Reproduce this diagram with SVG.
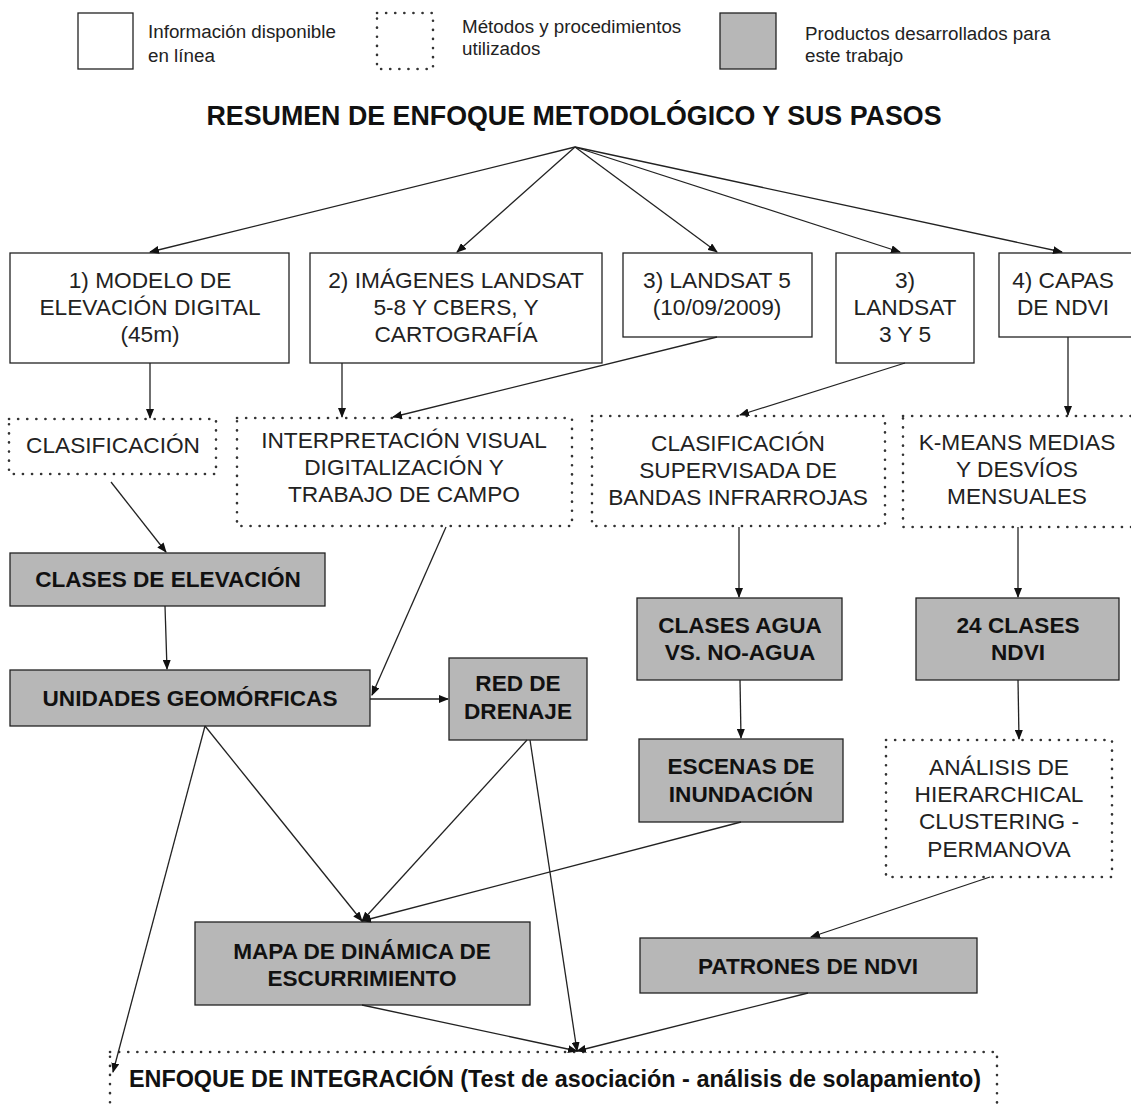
<svg xmlns="http://www.w3.org/2000/svg" width="1131" height="1108" viewBox="0 0 1131 1108">
<style>
.n{fill:#fff;stroke:#222;stroke-width:1.3}
.d{fill:#fff;stroke:#333;stroke-width:2.6;stroke-dasharray:0.1 9;stroke-linecap:round}
.p{fill:#b7b7b7;stroke:#222;stroke-width:1.3}
.t{font-family:"Liberation Sans",Arial,sans-serif;font-size:22.7px;fill:#222;text-anchor:middle}
.b{font-family:"Liberation Sans",Arial,sans-serif;font-size:22.6px;font-weight:bold;fill:#111;text-anchor:middle}
.l{font-family:"Liberation Sans",Arial,sans-serif;font-size:18.8px;fill:#222}
.c line{stroke:#222;stroke-width:1.3;marker-end:url(#ah)}
</style>
<defs>
<marker id="ah" markerUnits="userSpaceOnUse" markerWidth="10" markerHeight="8" refX="9" refY="4" orient="auto">
<path d="M0,0 L10,4 L0,8 z" fill="#111"/>
</marker>
</defs>
<rect width="1131" height="1108" fill="#fff"/>
<g id="legend">
<rect class="n" x="78" y="13" width="55" height="56"/>
<text class="l" x="148" y="38">Información disponible</text>
<text class="l" x="148" y="62">en línea</text>
<rect class="d" x="377" y="13" width="56" height="56"/>
<text class="l" x="462" y="33">Métodos y procedimientos</text>
<text class="l" x="462" y="55">utilizados</text>
<rect class="p" x="720" y="13" width="56" height="56"/>
<text class="l" x="805" y="40">Productos desarrollados para</text>
<text class="l" x="805" y="62">este trabajo</text>
</g>
<g id="title">
<text class="b" x="574" y="125" style="font-size:26.8px">RESUMEN DE ENFOQUE METODOLÓGICO Y SUS PASOS</text>
</g>
<g id="n1"><rect class="n" x="10" y="253" width="279" height="110"/>
<text class="t" x="150" y="288">1) MODELO DE</text><text class="t" x="150" y="315">ELEVACIÓN DIGITAL</text><text class="t" x="150" y="342">(45m)</text></g>
<g id="n2"><rect class="n" x="310" y="253" width="292" height="110"/>
<text class="t" x="456" y="288">2) IMÁGENES LANDSAT</text><text class="t" x="456" y="315">5-8 Y CBERS, Y</text><text class="t" x="456" y="342">CARTOGRAFÍA</text></g>
<g id="n3"><rect class="n" x="623" y="253" width="189" height="84"/>
<text class="t" x="717" y="288">3) LANDSAT 5</text><text class="t" x="717" y="315">(10/09/2009)</text></g>
<g id="n4"><rect class="n" x="836" y="253" width="138" height="110"/>
<text class="t" x="905" y="288">3)</text><text class="t" x="905" y="315">LANDSAT</text><text class="t" x="905" y="342">3 Y 5</text></g>
<g id="n5"><rect class="n" x="999" y="253" width="140" height="84"/>
<text class="t" x="1063" y="288">4) CAPAS</text><text class="t" x="1063" y="315">DE NDVI</text></g>
<g id="m1"><rect class="d" x="9" y="419" width="207" height="55"/>
<text class="t" x="113" y="453">CLASIFICACIÓN</text></g>
<g id="m2"><rect class="d" x="237" y="418" width="335" height="108"/>
<text class="t" x="404" y="448">INTERPRETACIÓN VISUAL</text><text class="t" x="404" y="475">DIGITALIZACIÓN Y</text><text class="t" x="404" y="502">TRABAJO DE CAMPO</text></g>
<g id="m3"><rect class="d" x="592" y="416" width="293" height="110"/>
<text class="t" x="738" y="451">CLASIFICACIÓN</text><text class="t" x="738" y="478">SUPERVISADA DE</text><text class="t" x="738" y="505">BANDAS INFRARROJAS</text></g>
<g id="m4"><rect class="d" x="903" y="416" width="236" height="111"/>
<text class="t" x="1017" y="450">K-MEANS MEDIAS</text><text class="t" x="1017" y="477">Y DESVÍOS</text><text class="t" x="1017" y="504">MENSUALES</text></g>
<g id="p1"><rect class="p" x="10" y="553" width="315" height="53"/>
<text class="b" x="168" y="587">CLASES DE ELEVACIÓN</text></g>
<g id="p2"><rect class="p" x="10" y="670" width="360" height="56"/>
<text class="b" x="190" y="706">UNIDADES GEOMÓRFICAS</text></g>
<g id="p3"><rect class="p" x="449" y="658" width="138" height="82"/>
<text class="b" x="518" y="691">RED DE</text><text class="b" x="518" y="719">DRENAJE</text></g>
<g id="p4"><rect class="p" x="637" y="598" width="205" height="82"/>
<text class="b" x="740" y="633">CLASES AGUA</text><text class="b" x="740" y="660">VS. NO-AGUA</text></g>
<g id="p5"><rect class="p" x="639" y="739" width="204" height="83"/>
<text class="b" x="741" y="774">ESCENAS DE</text><text class="b" x="741" y="802">INUNDACIÓN</text></g>
<g id="p6"><rect class="p" x="916" y="598" width="203" height="82"/>
<text class="b" x="1018" y="633">24 CLASES</text><text class="b" x="1018" y="660">NDVI</text></g>
<g id="m5"><rect class="d" x="886" y="740" width="226" height="137"/>
<text class="t" x="999" y="775">ANÁLISIS DE</text><text class="t" x="999" y="802">HIERARCHICAL</text><text class="t" x="999" y="829">CLUSTERING -</text><text class="t" x="999" y="857">PERMANOVA</text></g>
<g id="p7"><rect class="p" x="195" y="922" width="335" height="83"/>
<text class="b" x="362" y="959">MAPA DE DINÁMICA DE</text><text class="b" x="362" y="986">ESCURRIMIENTO</text></g>
<g id="p8"><rect class="p" x="640" y="938" width="337" height="55"/>
<text class="b" x="808" y="974">PATRONES DE NDVI</text></g>
<g id="m6"><rect class="d" x="110" y="1052" width="887" height="80"/>
<text class="b" x="555" y="1087" style="font-size:23.4px">ENFOQUE DE INTEGRACIÓN (Test de asociación - análisis de solapamiento)</text></g>
<g id="connectors" class="c">
<line x1="575" y1="147" x2="150" y2="252"/>
<line x1="575" y1="147" x2="457" y2="252"/>
<line x1="575" y1="147" x2="717" y2="252"/>
<line x1="575" y1="147" x2="900" y2="252"/>
<line x1="575" y1="147" x2="1062" y2="252"/>
<line x1="150" y1="363" x2="150" y2="418"/>
<line x1="342" y1="363" x2="342" y2="417"/>
<line x1="717" y1="337" x2="393" y2="417"/>
<line x1="905" y1="363" x2="740" y2="415"/>
<line x1="1068" y1="337" x2="1068" y2="415"/>
<line x1="111" y1="482" x2="166" y2="552"/>
<line x1="446" y1="527" x2="372" y2="695"/>
<line x1="739" y1="527" x2="739" y2="597"/>
<line x1="1018" y1="527" x2="1018" y2="597"/>
<line x1="165" y1="606" x2="167" y2="669"/>
<line x1="370" y1="699" x2="448" y2="699"/>
<line x1="740" y1="680" x2="741" y2="738"/>
<line x1="1018" y1="680" x2="1019" y2="739"/>
<line x1="205" y1="726" x2="362" y2="921"/>
<line x1="527" y1="740" x2="362" y2="921"/>
<line x1="741" y1="822" x2="362" y2="921"/>
<line x1="990" y1="877" x2="811" y2="937"/>
<line x1="362" y1="1005" x2="577" y2="1051"/>
<line x1="530" y1="740" x2="577" y2="1051"/>
<line x1="808" y1="993" x2="577" y2="1051"/>
<line x1="205" y1="726" x2="113" y2="1072"/>
</g>
</svg>
